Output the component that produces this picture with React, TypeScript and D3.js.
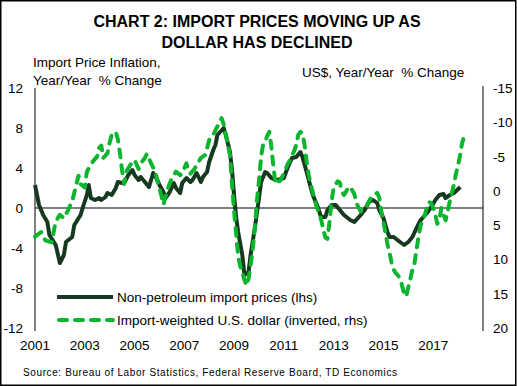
import * as d3 from "d3";

const parseMonth = d3.timeParse("%Y-%m");

const priceMonths = [
  "2001-01", "2001-03", "2001-05", "2001-07", "2001-08", "2001-11", "2002-01", "2002-03", "2002-04", "2002-07",
  "2002-08", "2002-11", "2002-12", "2003-02", "2003-03", "2003-04", "2003-06", "2003-08", "2003-09", "2003-11",
  "2003-12", "2004-02", "2004-04", "2004-05", "2004-07", "2004-08", "2004-10", "2004-12", "2005-01", "2005-03",
  "2005-04", "2005-06", "2005-08", "2005-10", "2005-12", "2006-01", "2006-03", "2006-04", "2006-06", "2006-08",
  "2006-09", "2006-11", "2006-12", "2007-02", "2007-04", "2007-05", "2007-07", "2007-09", "2007-10", "2007-12",
  "2008-01", "2008-03", "2008-04", "2008-05", "2008-08", "2008-09", "2008-11", "2008-12", "2009-01", "2009-02",
  "2009-03", "2009-05", "2009-06", "2009-08", "2009-09", "2009-11", "2010-01", "2010-02", "2010-04", "2010-05",
  "2010-07", "2010-09", "2010-10", "2011-01", "2011-02", "2011-04", "2011-05", "2011-07", "2011-09", "2011-10",
  "2011-12", "2012-02", "2012-03", "2012-05", "2012-07", "2012-09", "2012-10", "2012-12", "2013-02", "2013-04",
  "2013-06", "2013-09", "2013-11", "2014-02", "2014-04", "2014-06", "2014-08", "2014-10", "2014-11", "2015-01",
  "2015-03", "2015-04", "2015-06", "2015-09", "2015-11", "2016-01", "2016-03", "2016-05", "2016-07", "2016-10",
  "2016-12", "2017-02", "2017-04", "2017-06", "2017-07", "2017-09", "2017-11", "2018-02",
];
const priceValues = [
  2.3, 0.3, -0.7, -1.4, -2.7, -3.7, -5.5, -4.7, -3.4, -2.9,
  -1.7, -0.7, 0.0, 1.3, 2.3, 1.0, 0.8, 1.0, 0.8, 1.1,
  1.5, 1.3, 2.0, 2.6, 2.5, 2.5, 3.3, 3.8, 3.3, 2.8,
  3.1, 2.6, 2.1, 3.5, 2.8, 2.3, 1.6, 1.0, 1.6, 2.5,
  2.0, 1.5, 2.5, 3.0, 2.6, 2.8, 3.5, 2.6, 3.1, 3.6,
  4.6, 5.8, 6.3, 7.3, 8.0, 7.3, 5.6, 3.8, 1.2, -1.0,
  -2.4, -4.7, -6.7, -6.4, -4.6, -2.0, 1.0, 2.6, 3.6, 3.5,
  3.0, 2.8, 2.8, 3.0, 3.6, 4.6, 5.0, 5.1, 5.6, 5.1,
  3.6, 2.0, 1.3, 0.3, -0.9, -0.9, -0.2, 0.3, 0.3, -0.2,
  -0.7, -1.2, -1.4, -0.7, -0.2, 0.6, 0.8, 0.5, -0.2, -1.0,
  -2.4, -2.9, -2.9, -3.4, -3.7, -3.4, -2.9, -2.0, -1.2, -0.5,
  0.1, 0.8, 1.3, 1.4, 1.0, 1.3, 1.5, 2.1,
];

const dollarMonths = [
  "2001-01", "2001-04", "2001-06", "2001-09", "2001-11", "2002-01", "2002-03", "2002-05", "2002-07", "2002-09",
  "2002-10", "2002-11", "2003-01", "2003-02", "2003-04", "2003-05", "2003-07", "2003-08", "2003-09", "2003-10",
  "2003-12", "2004-01", "2004-02", "2004-04", "2004-05", "2004-06", "2004-07", "2004-08", "2004-09", "2004-11",
  "2005-01", "2005-03", "2005-04", "2005-06", "2005-07", "2005-09", "2005-11", "2005-12", "2006-02", "2006-03",
  "2006-05", "2006-07", "2006-08", "2006-09", "2006-11", "2006-12", "2007-02", "2007-03", "2007-04", "2007-06",
  "2007-07", "2007-09", "2007-11", "2007-12", "2008-01", "2008-02", "2008-03", "2008-05", "2008-06", "2008-07",
  "2008-08", "2008-09", "2008-11", "2008-12", "2009-01", "2009-02", "2009-03", "2009-04", "2009-05", "2009-06",
  "2009-07", "2009-08", "2009-09", "2009-10", "2009-11", "2009-12", "2010-01", "2010-02", "2010-03", "2010-04",
  "2010-05", "2010-06", "2010-07", "2010-08", "2010-09", "2010-10", "2010-11", "2011-01", "2011-03", "2011-04",
  "2011-05", "2011-06", "2011-07", "2011-08", "2011-09", "2011-10", "2011-11", "2011-12", "2012-01", "2012-02",
  "2012-03", "2012-04", "2012-05", "2012-06", "2012-07", "2012-08", "2012-09", "2012-10", "2012-11", "2012-12",
  "2013-01", "2013-03", "2013-04", "2013-05", "2013-06", "2013-08", "2013-09", "2013-11", "2013-12", "2014-02",
  "2014-03", "2014-05", "2014-07", "2014-09", "2014-10", "2014-11", "2014-12", "2015-01", "2015-02", "2015-03",
  "2015-04", "2015-05", "2015-06", "2015-07", "2015-08", "2015-09", "2015-10", "2015-11", "2015-12", "2016-01",
  "2016-02", "2016-03", "2016-04", "2016-05", "2016-06", "2016-07", "2016-08", "2016-09", "2016-10", "2016-11",
  "2016-12", "2017-01", "2017-02", "2017-03", "2017-04", "2017-05", "2017-06", "2017-07", "2017-08", "2017-09",
  "2017-10", "2017-11", "2017-12", "2018-01", "2018-02", "2018-03", "2018-04",
];
const dollarValues = [
  6.7, 6.0, 7.2, 7.5, 4.5, 3.5, 4.0, 2.8, 1.5, -1.0,
  -2.2, -1.0, -0.5, -2.8, -3.8, -4.3, -5.0, -6.3, -6.6, -4.8,
  -5.5, -7.0, -8.2, -8.6, -7.5, -5.5, -3.0, -1.0, -2.8, -3.8,
  -4.5, -3.2, -4.0, -4.8, -5.4, -4.0, -2.8, -1.5, 0.8, 2.0,
  -0.3, -1.8, -2.3, -2.8, -2.3, -2.6, -4.0, -3.0, -2.5, -3.2,
  -3.8, -4.8, -5.2, -6.2, -7.4, -8.0, -8.2, -9.4, -10.0, -10.6,
  -9.7, -8.2, -5.2, -1.0, 3.0, 6.5, 9.5, 11.0, 11.8, 13.0,
  13.8, 12.8, 10.8, 8.5, 5.5, 1.5, -1.5, -5.0, -6.7, -7.2,
  -8.0, -8.6, -6.5, -3.5, -1.0, -1.4, -1.4, -2.5, -4.0, -4.5,
  -5.2, -5.8, -6.7, -8.2, -8.6, -8.4, -6.7, -4.3, -2.3, -0.9,
  0.2, 1.5, 2.5, 3.2, 4.2, 5.6, 6.8, 7.0, 4.5, 1.5,
  -0.5, -1.4, -1.2, 0.1, 0.6, -0.4, -0.6, 0.5, 1.8, 3.0,
  2.8, 2.2, 1.0, 0.5, 0.3, 1.0, 3.0, 4.5, 6.2, 7.8,
  9.0, 10.5, 11.5, 12.0, 12.3, 12.8, 13.8, 15.0, 15.4, 14.0,
  12.8, 11.5, 10.5, 8.6, 6.5, 5.0, 4.2, 3.5, 2.3, 1.6,
  1.8, 2.5, 3.5, 4.8, 4.2, 2.5, 3.5, 4.3, 3.0, 1.5,
  0.3, -1.0, -2.5, -3.8, -5.3, -7.0, -8.0,
];

const leftTicks = [12, 8, 4, 0, -4, -8, -12];
const rightTicks = [-15, -10, -5, 0, 5, 10, 15, 20];
const yearLabels = ["2001", "2003", "2005", "2007", "2009", "2011", "2013", "2015", "2017"];

const titleLines = ["CHART 2: IMPORT PRICES MOVING UP AS", "DOLLAR HAS DECLINED"];
const legendLabels = ["Non-petroleum import prices (lhs)", "Import-weighted U.S. dollar (inverted, rhs)"];

const W = 517;
const H = 386;
const font = "Arial, 'Liberation Sans', sans-serif";
const dark = "#17391f";
const green = "#0db52f";

export default function App() {
  const x = d3.scaleTime([new Date(2001, 0, 1), new Date(2019, 0, 1)], [35, 483]);
  const yL = d3.scaleLinear([-12, 12], [328, 88]);
  const yR = d3.scaleLinear([-15, 20], [88, 328]);

  const prices = priceMonths.map((m, i) => ({ d: parseMonth(m) as Date, v: priceValues[i] }));
  const dollar = dollarMonths.map((m, i) => ({ d: parseMonth(m) as Date, v: dollarValues[i] }));

  const priceLine = d3.line<{ d: Date; v: number }>().x((p) => x(p.d)).y((p) => yL(p.v));
  const dollarLine = d3.line<{ d: Date; v: number }>().x((p) => x(p.d)).y((p) => yR(p.v));

  return (
    <svg width={W} height={H} style={{ position: "absolute", left: 0, top: 0, background: "#fff" }} fontFamily={font}>
      <rect x={0.75} y={0.75} width={W - 2} height={H - 1.5} fill="#fff" stroke="#000" strokeWidth={1.5} />

      {titleLines.map((t, i) => (
        <text key={t} x={257} y={27 + i * 21} textAnchor="middle" fontSize={16} fontWeight="bold">
          {t}
        </text>
      ))}

      <g fontSize={13.5}>
        <text x={33} y={67}>Import Price Inflation,</text>
        <text x={33} y={85}>{"Year/Year\u00a0 % Change"}</text>
        <text x={302} y={77}>{"US$, Year/Year\u00a0 % Change"}</text>
      </g>

      {/* axes */}
      <line x1={35} x2={35} y1={yL(12)} y2={yL(-12) + 3} stroke="#000" />
      <line x1={483} x2={483} y1={yR(-15) - 2} y2={yR(20) + 3} stroke="#000" />
      <line x1={35} x2={483} y1={yL(0)} y2={yL(0)} stroke="#000" />

      {leftTicks.map((t) => (
        <text key={t} x={23} y={yL(t) + 5} textAnchor="end" fontSize={13.5}>
          {t}
        </text>
      ))}
      {rightTicks.map((t) => (
        <text key={t} x={493} y={yR(t) + 5} fontSize={13.5}>
          {t}
        </text>
      ))}
      {yearLabels.map((y) => (
        <text key={y} x={x(parseMonth(y + "-01") as Date)} y={350} textAnchor="middle" fontSize={13.5}>
          {y}
        </text>
      ))}

      {/* series */}
      <path d={priceLine(prices) || ""} fill="none" stroke={dark} strokeWidth={4} strokeLinejoin="round" />
      <path
        d={dollarLine(dollar) || ""}
        fill="none"
        stroke={green}
        strokeWidth={4}
        strokeDasharray="8,8"
        strokeLinecap="round"
        strokeLinejoin="round"
      />

      {/* legend */}
      <line x1={57} x2={113} y1={297} y2={297} stroke={dark} strokeWidth={4} />
      <text x={117} y={302} fontSize={13.5}>{legendLabels[0]}</text>
      <line x1={59} x2={113} y1={320} y2={320} stroke={green} strokeWidth={4} strokeDasharray="8,8" strokeLinecap="round" />
      <text x={117} y={325} fontSize={13.5}>{legendLabels[1]}</text>

      <text x={23} y={376} fontSize={10} textLength={374} lengthAdjust="spacing">
        Source: Bureau of Labor Statistics, Federal Reserve Board, TD Economics
      </text>
    </svg>
  );
}
